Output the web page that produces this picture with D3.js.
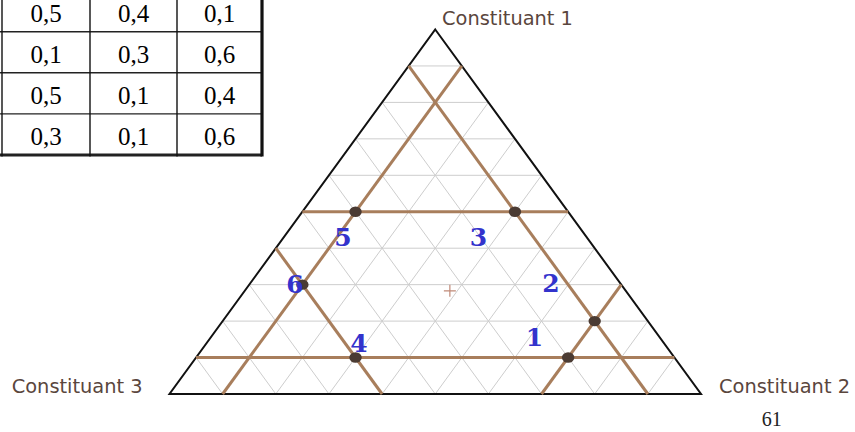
<!DOCTYPE html>
<html>
<head>
<meta charset="utf-8">
<script src="https://cdn.jsdelivr.net/npm/d3@7"></script>
<style>
  html, body { margin: 0; padding: 0; background: #fff; }
  svg { display: block; }
</style>
</head>
<body>
<svg id="chart" width="855" height="432"></svg>
<script>
// ---------- DATA ----------
const pointIds = [1, 2, 3, 4, 5, 6];
const c1Values = [0.1, 0.2, 0.5, 0.1, 0.5, 0.3];
const c2Values = [0.7, 0.7, 0.4, 0.3, 0.1, 0.1];
const c3Values = [0.2, 0.1, 0.1, 0.6, 0.4, 0.6];
const tableRowIds = [3, 4, 5, 6];          // rows of the table visible in the picture
const axisNames = ["Constituant 1", "Constituant 2", "Constituant 3"];
const gridSteps = [0.1, 0.2, 0.3, 0.4, 0.5, 0.6, 0.7, 0.8, 0.9];
const guideC1 = [0.5, 0.1];
const guideC2 = [0.1, 0.7];
const guideC3 = [0.1, 0.6];
const crossMark = [0.283, 0.386, 0.331];
const pageNumber = "61";

// ---------- LAYOUT ----------
const svg = d3.select("#chart");
const yScale = d3.scaleLinear().domain([0, 1]).range([394, 29.5]);     // C1
const xScale = d3.scaleLinear().domain([-1, 1]).range([169.5, 701]);   // C2 - C3
const px = (a, b, c) => [xScale(b - c), yScale(a)];
const labelOffsets = [[-33.6, -11.9], [-43.7, -29], [-36.5, 34], [3.5, -5.9], [-12.5, 34], [-7.4, 8.4]];
const fmt = v => d3.format(".1f")(v).replace(".", ",");

const points = pointIds.map((id, i) => ({ id, a: c1Values[i], b: c2Values[i], c: c3Values[i], off: labelOffsets[i] }));

// ---------- TABLE ----------
const colEdges = [-85, 2, 90, 177, 262];
const rowH = 41.1, lastRowBottom = 155;
const rowScale = d3.scaleLinear().domain([tableRowIds[0], tableRowIds[tableRowIds.length - 1] + 1])
  .range([lastRowBottom - tableRowIds.length * rowH, lastRowBottom]);
const tbl = svg.append("g");
const tableRows = points.filter(p => tableRowIds.includes(p.id));
tableRows.forEach((p, i) => {
  const bottom = rowScale(p.id + 1);
  tbl.append("line").attr("x1", colEdges[0]).attr("x2", colEdges[4]).attr("y1", bottom).attr("y2", bottom)
    .attr("stroke", "#222").attr("stroke-width", i === tableRows.length - 1 ? 3.2 : 1.4);
  const vals = [fmt(p.a), fmt(p.b), fmt(p.c)];
  vals.forEach((v, j) => {
    tbl.append("text").attr("x", (colEdges[j + 1] + colEdges[j + 2]) / 2).attr("y", bottom - 9.8)
      .attr("text-anchor", "middle").attr("font-family", "Liberation Serif, Times New Roman, serif")
      .attr("font-size", 25).attr("fill", "#000").text(v);
  });
});
colEdges.forEach((x, j) => {
  tbl.append("line").attr("x1", x).attr("x2", x).attr("y1", rowScale(tableRowIds[0])).attr("y2", lastRowBottom + 1.5)
    .attr("stroke", "#111").attr("stroke-width", j === colEdges.length - 1 ? 3.2 : 1.4);
});

// ---------- GRID ----------
const g = svg.append("g");
const line = d3.line();
function seg(p1, p2) { return line([px(...p1), px(...p2)]); }
gridSteps.forEach(s => {
  g.append("path").attr("d", seg([s, 0, 1 - s], [s, 1 - s, 0])).attr("stroke", "#cdcdcd").attr("stroke-width", 1).attr("fill", "none");
  g.append("path").attr("d", seg([0, s, 1 - s], [1 - s, s, 0])).attr("stroke", "#cdcdcd").attr("stroke-width", 1).attr("fill", "none");
  g.append("path").attr("d", seg([0, 1 - s, s], [1 - s, 0, s])).attr("stroke", "#cdcdcd").attr("stroke-width", 1).attr("fill", "none");
});

// outline
g.append("path")
  .attr("d", line([px(1, 0, 0), px(0, 1, 0), px(0, 0, 1)]) + "Z")
  .attr("fill", "none").attr("stroke", "#111").attr("stroke-width", 2).attr("stroke-linejoin", "miter");

// guide lines
const brown = "#a87e5c";
guideC1.forEach(s => g.append("path").attr("d", seg([s, 0, 1 - s], [s, 1 - s, 0])).attr("stroke", brown).attr("stroke-width", 3).attr("fill", "none"));
guideC2.forEach(s => g.append("path").attr("d", seg([0, s, 1 - s], [1 - s, s, 0])).attr("stroke", brown).attr("stroke-width", 3).attr("fill", "none"));
guideC3.forEach(s => g.append("path").attr("d", seg([0, 1 - s, s], [1 - s, 0, s])).attr("stroke", brown).attr("stroke-width", 3).attr("fill", "none"));

// cross mark
const cm = px(...crossMark);
g.append("path").attr("d", `M${cm[0] - 6},${cm[1]}H${cm[0] + 6}M${cm[0]},${cm[1] - 6}V${cm[1] + 6}`)
  .attr("stroke", "#c08a78").attr("stroke-width", 1.2);

// dots
points.forEach(p => {
  const [x, y] = px(p.a, p.b, p.c);
  g.append("ellipse").attr("cx", x).attr("cy", y).attr("rx", 6.2).attr("ry", 5.2).attr("fill", "#4b3b33");
});
// labels
points.forEach(p => {
  const [x, y] = px(p.a, p.b, p.c);
  g.append("text").attr("x", x + p.off[0]).attr("y", y + p.off[1]).attr("text-anchor", "middle")
    .attr("font-family", "DejaVu Serif, serif").attr("font-weight", "bold").attr("font-size", 25)
    .attr("fill", "#3333cc").text(p.id);
});

// axis names
const axisColor = "#5a463d";
const tf = "DejaVu Sans, Verdana, sans-serif";
svg.append("text").attr("x", 442).attr("y", 25).attr("font-family", tf).attr("font-size", 19.4).attr("fill", axisColor).text(axisNames[0]);
svg.append("text").attr("x", 850).attr("y", 393.3).attr("text-anchor", "end").attr("font-family", tf).attr("font-size", 19.4).attr("fill", axisColor).text(axisNames[1]);
svg.append("text").attr("x", 11.7).attr("y", 393.3).attr("font-family", tf).attr("font-size", 19.4).attr("fill", axisColor).text(axisNames[2]);

// page number
svg.append("text").attr("x", 771.7).attr("y", 425.7).attr("text-anchor", "middle")
  .attr("font-family", "Liberation Serif, Times New Roman, serif").attr("font-size", 20).attr("fill", "#222").text(pageNumber);
</script>
</body>
</html>
